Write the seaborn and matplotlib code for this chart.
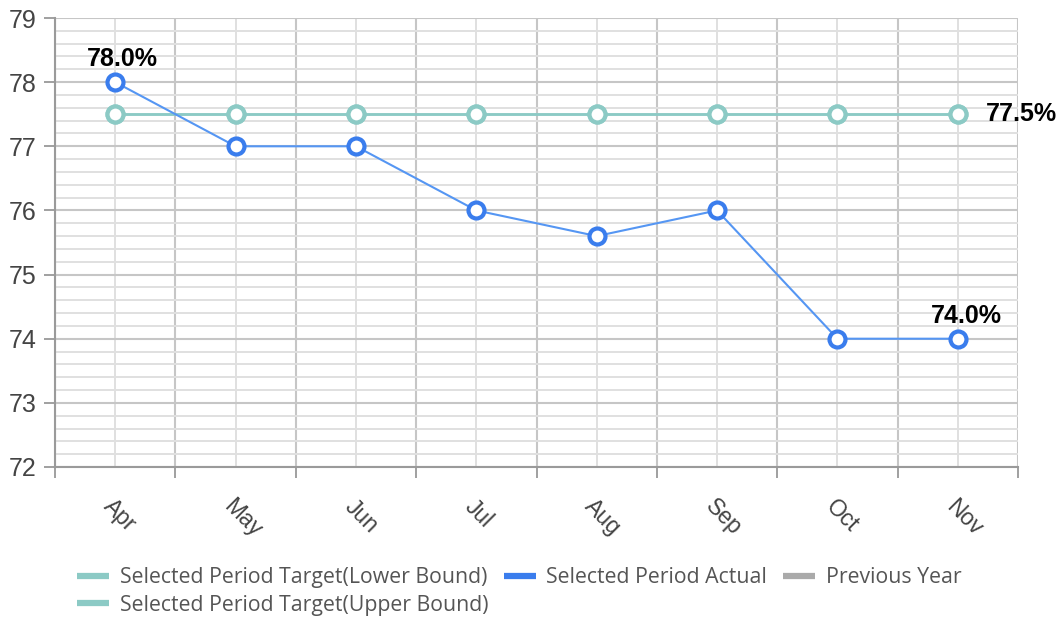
import numpy as np
import pandas as pd
import matplotlib
matplotlib.use("Agg")
import matplotlib.pyplot as plt
import seaborn as sns
from matplotlib.lines import Line2D

months = ["Apr", "May", "Jun", "Jul", "Aug", "Sep", "Oct", "Nov"]
actual = [78.0, 77.0, 77.0, 76.0, 75.6, 76.0, 74.0, 74.0]
target_lower = [77.5] * 8
target_upper = [77.5] * 8

sns.set_style("white")
plt.rcParams['font.family'] = ['Liberation Sans', 'DejaVu Sans']

BLUE = "#3a7ded"
BLUE_LINE = "#5596f3"
TEAL = "#8ccac5"
GRAY = "#aaaaaa"

fig = plt.figure(figsize=(10.61, 6.17), dpi=100)
ax = fig.add_axes([55/1061, 150/617, (1018-55)/1061, (467-18)/617])

x = np.arange(len(months))
df = pd.DataFrame({"x": x, "actual": actual, "lower": target_lower, "upper": target_upper})

mk = dict(marker="o", markersize=11.5, markerfacecolor="white", markeredgewidth=3)
sns.lineplot(data=df, x="x", y="upper", ax=ax, color=TEAL, lw=1.8, markeredgecolor=TEAL, zorder=3, **mk)
sns.lineplot(data=df, x="x", y="lower", ax=ax, color=TEAL, lw=1.8, markeredgecolor=TEAL, zorder=3, **mk)
sns.lineplot(data=df, x="x", y="actual", ax=ax, color=BLUE_LINE, lw=1.5, markeredgecolor=BLUE, zorder=4, **mk)

ax.set_xlim(-0.5, len(months) - 0.5)
ax.set_ylim(72, 79)

# ticks
ax.set_xticks(np.arange(-0.5, len(months), 1.0))
ax.set_xticklabels([])
ax.set_xticks(x, minor=True)
ax.set_xticklabels(months, minor=True, rotation=-45, ha="left", va="top",
                   rotation_mode="anchor", fontsize=16.5, color="#444444")
ax.tick_params(axis="x", which="major", length=8, width=1.3, color="#999999", direction="out", bottom=True)
ax.tick_params(axis="x", which="minor", length=0, pad=20)

ax.set_yticks(np.arange(72, 80, 1))
ax.set_yticklabels([str(v) for v in range(72, 80)], fontsize=18, color="#444444")
ax.set_yticks(np.arange(72, 79.01, 0.2), minor=True)
ax.tick_params(axis="y", which="major", length=8, width=1.3, color="#999999", direction="out", left=True, pad=5)
ax.tick_params(axis="y", which="minor", length=0)

ax.grid(True, which="major", color="#c6c6c6", lw=1.5, zorder=0)
ax.grid(True, which="minor", color="#e0e0e0", lw=1.4, zorder=0)
ax.set_axisbelow(True)

for s in ["top", "right"]:
    ax.spines[s].set_visible(False)
for s in ["left", "bottom"]:
    ax.spines[s].set_color("#9a9a9a")
    ax.spines[s].set_linewidth(1.5)

ax.set_xlabel("")
ax.set_ylabel("")

# data labels
lbl = dict(fontsize=18, fontweight="bold", color="black")
ax.annotate(f"{actual[0]:.1f}%", (x[0], actual[0]), xytext=(5, 8), textcoords="offset points",
            ha="center", va="bottom", **lbl)
ax.annotate(f"{actual[-1]:.1f}%", (x[-1], actual[-1]), xytext=(6, 8), textcoords="offset points",
            ha="center", va="bottom", **lbl)
ax.annotate(f"{target_upper[-1]:.1f}%", (x[-1], target_upper[-1]), xytext=(20, 0), textcoords="offset points",
            ha="left", va="center", annotation_clip=False, **lbl)

handles = [
    Line2D([], [], color=TEAL, lw=4.5, solid_capstyle="butt"),
    Line2D([], [], color=TEAL, lw=4.5, solid_capstyle="butt"),
    Line2D([], [], color=BLUE, lw=4.5, solid_capstyle="butt"),
    Line2D([], [], color=GRAY, lw=4.5, solid_capstyle="butt"),
]
labels = ["Selected Period Target(Lower Bound)", "Selected Period Target(Upper Bound)",
          "Selected Period Actual", "Previous Year"]
leg = fig.legend(handles, labels, loc="upper left", bbox_to_anchor=(77/1061, 1 - 567/617),
                 ncol=3, frameon=False, prop={"family": "Open Sans", "size": 15.3},
                 handlelength=1.5, handletextpad=0.5,
                 columnspacing=0.75, labelspacing=0.32, borderaxespad=0, borderpad=0)
for t in leg.get_texts():
    t.set_color("#555555")

fig.savefig("out.png", dpi=100)
